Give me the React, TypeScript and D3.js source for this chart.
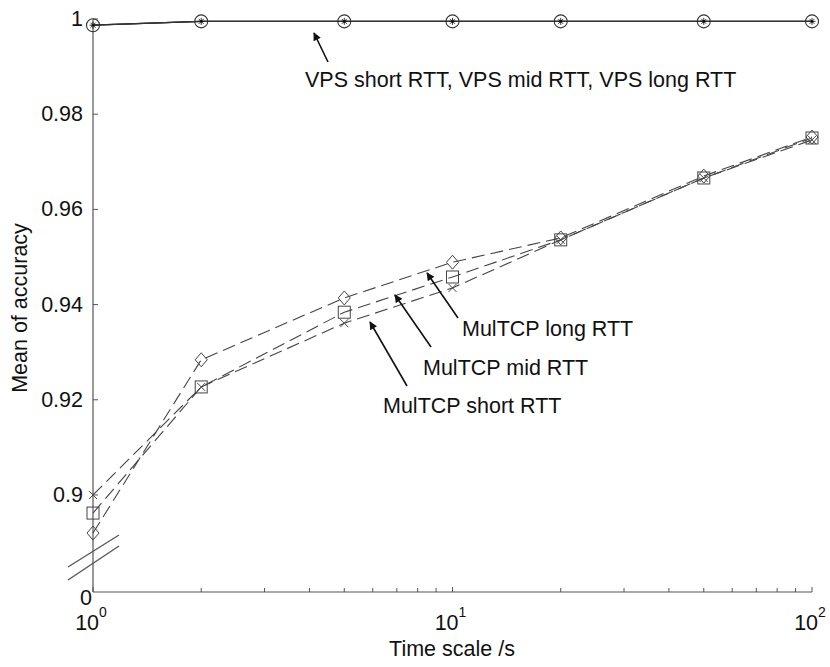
import React from 'react';
import * as d3 from 'd3';

// Time scales (s) at which accuracy was measured
const timeScales = [1, 2, 5, 10, 20, 50, 100];

// VPS curves (all three RTT settings overlap)
const vpsShort = [0.9987, 0.9995, 0.9995, 0.9995, 0.9995, 0.9995, 0.9995];
const vpsMid = [0.9987, 0.9995, 0.9995, 0.9995, 0.9995, 0.9995, 0.9995];
const vpsLong = [0.9987, 0.9995, 0.9995, 0.9995, 0.9995, 0.9995, 0.9995];

// MulTCP curves
const mulShort = [0.9, 0.9227, 0.9361, 0.9435, 0.9536, 0.9666, 0.9746];
const mulMid = [0.8962, 0.9227, 0.9384, 0.9458, 0.9536, 0.9666, 0.975];
const mulLong = [0.892, 0.9284, 0.9414, 0.9489, 0.954, 0.967, 0.9752];

const yTicks = [0, 0.9, 0.92, 0.94, 0.96, 0.98, 1];
const yTickLabels = ['0', '0.9', '0.92', '0.94', '0.96', '0.98', '1'];
const xMajor = [1, 10, 100];
const xMajorExp = ['0', '1', '2'];
const xMinor = [2, 3, 4, 5, 6, 7, 8, 9, 20, 30, 40, 50, 60, 70, 80, 90];

const W = 830;
const H = 667;
const FONT = '"Liberation Sans", Arial, Helvetica, sans-serif';
const FS = 21.5;

export default function App() {
  const x = d3.scaleLog().domain([1, 100]).range([93, 812]);
  // broken axis: 0 .. 0.88 squeezed into a few pixels at the bottom
  const y = d3.scaleLinear().domain([0, 0.8805, 1]).range([592, 587.8, 19]);

  const line = d3
    .line<number>()
    .x((_, i) => x(timeScales[i]))
    .y((d) => y(d));

  const axisColor = '#555';
  const lineColor = '#444';

  const diamond = (cx: number, cy: number) =>
    `M${cx},${cy - 7}L${cx + 6},${cy}L${cx},${cy + 7}L${cx - 6},${cy}Z`;

  const x0 = x(1);
  const yb = y(0);

  const annotations = [
    { text: 'VPS short RTT, VPS mid RTT, VPS long RTT', tx: 305, ty: 87, x1: 328, y1: 62, x2: 314, y2: 33 },
    { text: 'MulTCP long RTT', tx: 462, ty: 336, x1: 458, y1: 318, x2: 427, y2: 273 },
    { text: 'MulTCP mid RTT', tx: 423, ty: 375, x1: 431, y1: 347, x2: 395, y2: 295 },
    { text: 'MulTCP short RTT', tx: 383, ty: 413, x1: 407, y1: 386, x2: 370, y2: 322 },
  ];

  return (
    <svg
      width={W}
      height={H}
      style={{ position: 'absolute', left: 0, top: 0, background: '#fff' }}
      fontFamily={FONT}
    >
      <defs>
        <marker id="arr" viewBox="0 0 10 10" refX="9" refY="5" markerWidth="10" markerHeight="8"
          markerUnits="userSpaceOnUse" orient="auto">
          <path d="M0,0L10,5L0,10Z" fill="#111" />
        </marker>
      </defs>
      <rect x={0} y={0} width={W} height={H} fill="#fff" />

      {/* axes */}
      <line x1={x0} x2={x0} y1={yb} y2={y(1)} stroke={axisColor} strokeWidth={1.2} />
      <line x1={x0} x2={x(100)} y1={yb} y2={yb} stroke={axisColor} strokeWidth={1.2} />

      {/* y ticks */}
      {yTicks.map((t, i) => (
        <g key={'yt' + i}>
          {t > 0 && <line x1={x0} x2={x0 + 5} y1={y(t)} y2={y(t)} stroke={axisColor} strokeWidth={1} />}
          <text
            x={t > 0 ? 83 : 86}
            y={t > 0 ? y(t) : y(t) + 6}
            textAnchor={t > 0 ? 'end' : 'middle'}
            dominantBaseline="central"
            fontSize={FS}
            fill="#111"
          >
            {yTickLabels[i]}
          </text>
        </g>
      ))}

      {/* x ticks */}
      {xMinor.map((t) => (
        <line key={'xm' + t} x1={x(t)} x2={x(t)} y1={yb} y2={yb - 4} stroke={axisColor} strokeWidth={1} />
      ))}
      {xMajor.map((t, i) => (
        <g key={'xM' + t}>
          <line x1={x(t)} x2={x(t)} y1={yb} y2={yb - 5} stroke={axisColor} strokeWidth={1} />
          <text x={x(t) - 2} y={630} textAnchor="middle" fontSize={FS} fill="#111">
            10
            <tspan fontSize={14} dy={-13}>{xMajorExp[i]}</tspan>
          </text>
        </g>
      ))}

      {/* axis break marks */}
      <line x1={x0 - 25} y1={yb - 25} x2={x0 + 26} y2={yb - 57} stroke={axisColor} strokeWidth={1.3} />
      <line x1={x0 - 25} y1={yb - 12} x2={x0 + 26} y2={yb - 46} stroke={axisColor} strokeWidth={1.3} />

      {/* axis titles */}
      <text x={452} y={656} textAnchor="middle" fontSize={FS} fill="#111">Time scale /s</text>
      <text
        transform={`translate(27,308) rotate(-90)`}
        textAnchor="middle"
        fontSize={FS}
        fill="#111"
      >
        Mean of accuracy
      </text>

      {/* MulTCP dashed curves */}
      {[mulShort, mulMid, mulLong].map((s, k) => (
        <path key={'ml' + k} d={line(s) || ''} fill="none" stroke={lineColor} strokeWidth={1.1}
          strokeDasharray="13 6" />
      ))}
      {mulShort.map((v, i) => {
        const cx = x(timeScales[i]);
        const cy = y(v);
        return (
          <g key={'ms' + i} stroke={lineColor} strokeWidth={1}>
            <line x1={cx - 4} y1={cy - 4} x2={cx + 4} y2={cy + 4} />
            <line x1={cx - 4} y1={cy + 4} x2={cx + 4} y2={cy - 4} />
          </g>
        );
      })}
      {mulMid.map((v, i) => (
        <rect key={'mm' + i} x={x(timeScales[i]) - 6} y={y(v) - 6} width={12} height={12}
          fill="none" stroke={lineColor} strokeWidth={1} />
      ))}
      {mulLong.map((v, i) => (
        <path key={'mL' + i} d={diamond(x(timeScales[i]), y(v))} fill="none" stroke={lineColor} strokeWidth={1} />
      ))}

      {/* VPS curves */}
      {[vpsShort, vpsMid, vpsLong].map((s, k) => (
        <path key={'vl' + k} d={line(s) || ''} fill="none" stroke="#333" strokeWidth={1.3} />
      ))}
      {vpsShort.map((v, i) => (
        <circle key={'vs' + i} cx={x(timeScales[i])} cy={y(v)} r={6.5} fill="none" stroke="#333" strokeWidth={1.1} />
      ))}
      {vpsMid.map((v, i) => {
        const cx = x(timeScales[i]);
        const cy = y(v);
        const r = 3.5;
        return (
          <g key={'vm' + i} stroke="#222" strokeWidth={0.9}>
            {[0, 45, 90, 135].map((a) => {
              const rad = (a * Math.PI) / 180;
              return (
                <line key={a} x1={cx - r * Math.cos(rad)} y1={cy - r * Math.sin(rad)}
                  x2={cx + r * Math.cos(rad)} y2={cy + r * Math.sin(rad)} />
              );
            })}
          </g>
        );
      })}
      {vpsLong.map((v, i) => (
        <circle key={'vL' + i} cx={x(timeScales[i])} cy={y(v)} r={1.3} fill="#111" />
      ))}

      {/* annotations */}
      {annotations.map((a, i) => (
        <g key={'an' + i}>
          <line x1={a.x1} y1={a.y1} x2={a.x2} y2={a.y2} stroke="#111" strokeWidth={1.6} markerEnd="url(#arr)" />
          <text x={a.tx} y={a.ty} fontSize={FS} fill="#111">{a.text}</text>
        </g>
      ))}
    </svg>
  );
}
